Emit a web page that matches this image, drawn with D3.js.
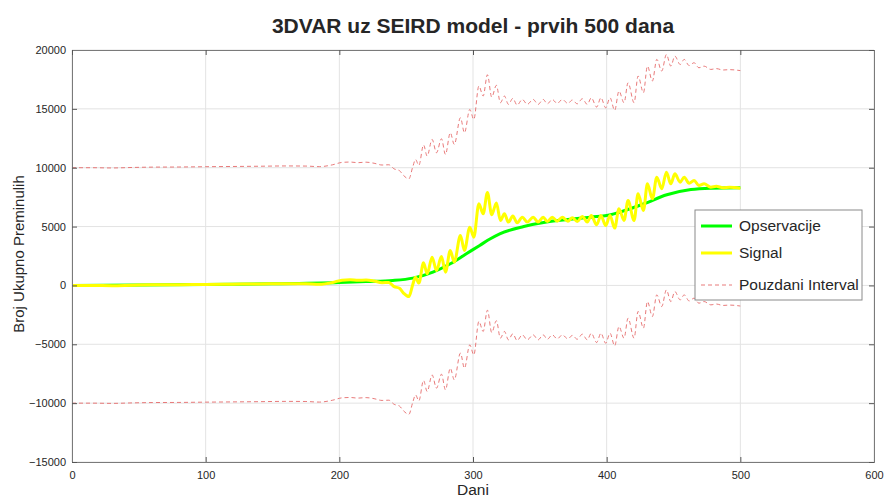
<!DOCTYPE html>
<html>
<head>
<meta charset="utf-8">
<script src="https://d3js.org/d3.v7.min.js"></script>
<style>
  body { margin: 0; background: #fff; }
  text { font-family: "Liberation Sans", Arial, sans-serif; fill: #262626; }
</style>
</head>
<body>
<script type="text/javascript">

// observations (smooth)
var obsDays = [0,50,100,150,200,220,240,255,270,283,295,305,313,320,338,355,371,388,403,410,428,445,463,478,500];
var obsValues = [0,30,80,140,250,330,420,620,1130,1840,2690,3400,3960,4380,5000,5380,5600,5800,6000,6230,6940,7700,8150,8260,8300];

// 3DVAR signal and confidence interval, sampled on the same days
var sigDays = [0,15,30,45,60,80,100,120,140,160,
  175,185,195,202,208,214,220,226,232,237,
  241,245,248,252,255,257,259.5,263,265.7,269.4,
  272.7,276.4,279.4,283,286,290.6,293.6,297.6,300.6,304.4,
  307.6,310.8,314,317.5,320.5,323.5,326.5,329.8,333,336.9,
  340.6,345,348.7,352.5,355.6,359.3,363,366.8,371,374.3,
  378,381.8,385.5,388.5,392.5,395.7,399.3,402.5,406,409.2,
  413,416,420.5,423.5,427.5,430.5,434.2,437.5,441.2,444.7,
  448,451,455,458,461.7,465.4,469,472.9,477.9,482,
  487,492,500];
var sigValues = [0,0,-20,20,50,60,85,105,125,150,
  140,90,250,450,480,430,470,380,230,250,
  -100,-250,-650,-950,100,700,200,1930,990,2400,
  1270,2460,1130,2970,1980,4250,2970,4950,4100,6940,
  6090,7900,6000,7000,5520,6090,5380,5890,5320,5800,
  5380,5800,5380,5800,5430,5800,5460,5800,5460,5750,
  5430,5860,5380,5940,5150,5940,5090,5940,4870,6510,
  5520,7220,5520,7790,6370,8630,7360,9200,8210,9620,
  8630,9480,8770,9200,8680,8920,8490,8630,8350,8420,
  8300,8330,8250];
var ciUpper = [10000,10000,9980,10020,10050,10060,10085,10105,10125,10150,
  10140,10090,10250,10450,10480,10430,10470,10380,10230,10250,
  9900,9750,9350,9050,10100,10700,10200,11930,10990,12400,
  11270,12460,11130,12970,11980,14250,12970,14950,14100,16940,
  16090,17900,16000,17000,15520,16090,15380,15890,15320,15800,
  15380,15800,15380,15800,15430,15800,15460,15800,15460,15750,
  15430,15860,15380,15940,15150,15940,15090,15940,14870,16510,
  15520,17220,15520,17790,16370,18630,17360,19200,18210,19620,
  18630,19480,18770,19200,18680,18920,18490,18630,18350,18420,
  18300,18330,18250];
var ciLower = [-10000,-10000,-10020,-9980,-9950,-9940,-9915,-9895,-9875,-9850,
  -9860,-9910,-9750,-9550,-9520,-9570,-9530,-9620,-9770,-9750,
  -10100,-10250,-10650,-10950,-9900,-9300,-9800,-8070,-9010,-7600,
  -8730,-7540,-8870,-7030,-8020,-5750,-7030,-5050,-5900,-3060,
  -3910,-2100,-4000,-3000,-4480,-3910,-4620,-4110,-4680,-4200,
  -4620,-4200,-4620,-4200,-4570,-4200,-4540,-4200,-4540,-4250,
  -4570,-4140,-4620,-4060,-4850,-4060,-4910,-4060,-5130,-3490,
  -4480,-2780,-4480,-2210,-3630,-1370,-2640,-800,-1790,-380,
  -1370,-520,-1230,-800,-1320,-1080,-1510,-1370,-1650,-1580,
  -1700,-1670,-1750];

var xTicks = [0,100,200,300,400,500,600];
var yTicks = [-15000,-10000,-5000,0,5000,10000,15000,20000];
var legendLabels = ["Opservacije","Signal","Pouzdani Interval"];

var W = 885, H = 497;
var margin = {top: 50, right: 11, bottom: 35, left: 72};
var w = W - margin.left - margin.right;
var h = H - margin.top - margin.bottom;

var svg = d3.select("body").append("svg")
  .attr("width", W)
  .attr("height", H);

var x = d3.scaleLinear().domain([0, 600]).range([0, w]);
var y = d3.scaleLinear().domain([-15000, 20000]).range([h, 0]);

var g = svg.append("g").attr("transform", "translate(" + margin.left + "," + margin.top + ")");

// grid
g.selectAll(".gx").data(xTicks).enter().append("line")
  .attr("x1", d => x(d)).attr("x2", d => x(d))
  .attr("y1", 0).attr("y2", h)
  .attr("stroke", "#e3e3e3").attr("stroke-width", 1);
g.selectAll(".gy").data(yTicks).enter().append("line")
  .attr("y1", d => y(d)).attr("y2", d => y(d))
  .attr("x1", 0).attr("x2", w)
  .attr("stroke", "#e3e3e3").attr("stroke-width", 1);

function line(xs, ys, curve) {
  return d3.line()
    .x((d, i) => x(xs[i]))
    .y(d => y(d))
    .curve(curve)(ys);
}

// lines
g.append("path").attr("d", line(obsDays, obsValues, d3.curveMonotoneX))
  .attr("fill", "none").attr("stroke", "#00ff00").attr("stroke-width", 3);
g.append("path").attr("d", line(sigDays, sigValues, d3.curveMonotoneX))
  .attr("fill", "none").attr("stroke", "#ffff00").attr("stroke-width", 3);
[ciUpper, ciLower].forEach(function(s) {
  g.append("path").attr("d", line(sigDays, s, d3.curveMonotoneX))
    .attr("fill", "none").attr("stroke", "#e56b6b").attr("stroke-width", 0.9)
    .attr("stroke-dasharray", "4,3");
});

// axes (box with inward ticks on all sides)
var axB = d3.axisBottom(x).tickValues(xTicks).tickSize(-5).tickPadding(9).tickFormat(d3.format("d"));
var axL = d3.axisLeft(y).tickValues(yTicks).tickSize(-5).tickPadding(6).tickFormat(d3.format("d"));
var axT = d3.axisTop(x).tickValues(xTicks).tickSize(-5).tickFormat("");
var axR = d3.axisRight(y).tickValues(yTicks).tickSize(-5).tickFormat("");

g.append("g").attr("transform", "translate(0," + h + ")").call(axB);
g.append("g").call(axL);
g.append("g").call(axT);
g.append("g").attr("transform", "translate(" + w + ",0)").call(axR);

g.selectAll(".domain").attr("stroke", "#7a7a7a");
g.selectAll(".tick line").attr("stroke", "#555");
g.selectAll(".tick text").style("font-size", "11px").style("font-family", "Liberation Sans, Arial, sans-serif").attr("fill", "#262626");

// title and labels
svg.append("text").attr("x", margin.left + w / 2).attr("y", 33)
  .attr("text-anchor", "middle").style("font-size", "21px").style("font-weight", "bold")
  .text("3DVAR uz SEIRD model - prvih 500 dana");
svg.append("text").attr("x", margin.left + w / 2).attr("y", 495)
  .attr("text-anchor", "middle").style("font-size", "15.5px")
  .text("Dani");
svg.append("text").attr("transform", "translate(24," + (margin.top + h / 2 - 2) + ") rotate(-90)")
  .attr("text-anchor", "middle").style("font-size", "15px")
  .text("Broj Ukupno Preminulih");

// legend
var lg = svg.append("g").attr("transform", "translate(695,210)");
lg.append("rect").attr("width", 167).attr("height", 90)
  .attr("fill", "#fff").attr("stroke", "#8a8a8a").attr("stroke-width", 1);
var legendStyles = [
  {c: "#00ff00", w: 3, dash: null},
  {c: "#ffff00", w: 3, dash: null},
  {c: "#e56b6b", w: 0.9, dash: "4,3"}
];
var rowY = [16, 43, 75];
legendLabels.forEach(function(lab, i) {
  var s = legendStyles[i];
  lg.append("line").attr("x1", 6).attr("x2", 37).attr("y1", rowY[i]).attr("y2", rowY[i])
    .attr("stroke", s.c).attr("stroke-width", s.w).attr("stroke-dasharray", s.dash);
  lg.append("text").attr("x", 44).attr("y", rowY[i] + 5)
    .style("font-size", "15.5px").text(lab);
});

</script>
</body>
</html>
